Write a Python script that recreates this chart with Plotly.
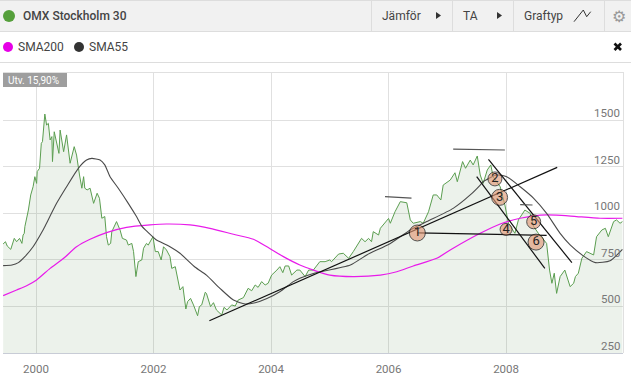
import plotly.graph_objects as go

price_t = [1999.44,1999.48,1999.51,1999.57,1999.63,1999.67,1999.72,1999.76,1999.78,1999.80,1999.81,1999.87,1999.91,1999.95,1999.98,2000.01,2000.02,2000.06,2000.09,2000.11,2000.15,2000.18,2000.21,2000.24,2000.27,2000.28,2000.31,2000.34,2000.39,2000.41,2000.44,2000.47,2000.52,2000.58,2000.65,2000.69,2000.74,2000.78,2000.81,2000.83,2000.87,2000.92,2000.98,2001.04,2001.08,2001.12,2001.17,2001.20,2001.23,2001.27,2001.29,2001.37,2001.43,2001.47,2001.54,2001.57,2001.63,2001.66,2001.70,2001.74,2001.80,2001.83,2001.88,2001.91,2001.99,2002.03,2002.08,2002.13,2002.17,2002.22,2002.28,2002.31,2002.37,2002.42,2002.45,2002.50,2002.55,2002.58,2002.63,2002.68,2002.75,2002.78,2002.82,2002.88,2002.90,2002.97,2003.02,2003.07,2003.16,2003.20,2003.25,2003.33,2003.39,2003.44,2003.53,2003.61,2003.67,2003.73,2003.78,2003.84,2003.90,2003.95,2004.01,2004.10,2004.15,2004.20,2004.24,2004.30,2004.35,2004.44,2004.49,2004.58,2004.64,2004.72,2004.83,2004.92,2005.00,2005.03,2005.15,2005.23,2005.32,2005.40,2005.49,2005.54,2005.60,2005.66,2005.71,2005.74,2005.83,2005.86,2006.00,2006.03,2006.11,2006.20,2006.31,2006.37,2006.42,2006.54,2006.59,2006.68,2006.76,2006.82,2006.89,2006.93,2007.05,2007.13,2007.17,2007.26,2007.31,2007.39,2007.44,2007.51,2007.56,2007.61,2007.68,2007.74,2007.78,2007.90,2007.98,2008.04,2008.15,2008.21,2008.32,2008.41,2008.47,2008.55,2008.69,2008.74,2008.78,2008.82,2008.86,2008.92,2009.00,2009.09,2009.15,2009.18,2009.23,2009.29,2009.37,2009.49,2009.54,2009.63,2009.69,2009.74,2009.83,2009.88,2009.94,2009.98]
price_v = [835,847,824,806,865,847,865,838,883,892,928,1017,1098,1142,1196,1160,1223,1241,1375,1384,1532,1473,1482,1393,1411,1277,1437,1393,1321,1446,1393,1330,1420,1268,1357,1312,1205,1134,1196,1134,1125,1134,1053,1107,1080,973,982,874,829,838,901,955,910,865,856,829,838,794,660,740,749,812,838,829,874,794,794,749,820,803,767,704,713,624,588,606,486,526,543,508,450,499,508,576,570,499,520,481,454,495,481,508,502,534,547,597,584,615,602,633,615,624,668,695,713,681,717,717,668,695,695,660,695,695,740,740,749,740,781,785,758,794,838,865,847,865,847,901,883,919,972,946,1008,1062,1056,964,946,955,946,1008,1098,1098,1071,1151,1178,1217,1169,1277,1241,1285,1259,1307,1205,1160,1232,1259,1196,1142,1044,946,892,964,1017,999,928,892,838,695,624,678,570,660,695,606,624,660,678,758,794,776,874,910,919,874,955,964,946,955]

sma55_t = [1999.44,1999.59,1999.70,1999.81,1999.95,2000.12,2000.15,2000.35,2000.52,2000.72,2000.86,2000.95,2001.09,2001.17,2001.26,2001.40,2001.57,2001.71,2001.80,2001.91,2002.05,2002.11,2002.28,2002.45,2002.71,2002.90,2003.13,2003.36,2003.56,2003.73,2003.93,2004.15,2004.38,2004.49,2004.72,2005.35,2005.63,2006.03,2006.37,2006.65,2007.10,2007.39,2007.56,2007.61,2007.84,2008.01,2008.24,2008.47,2008.69,2008.92,2009.09,2009.32,2009.52,2009.77,2009.98]
sma55_v = [719,722,735,767,820,910,928,1053,1142,1241,1285,1294,1285,1259,1196,1134,1053,982,931,896,856,847,820,785,710,668,597,534,513,520,543,579,633,651,677,722,776,838,910,955,1026,1098,1151,1169,1205,1196,1142,1080,999,892,830,770,735,745,806]

sma200_t = [1999.44,1999.67,1999.84,2000.01,2000.24,2000.47,2000.69,2000.92,2001.20,2001.54,2001.94,2002.22,2002.62,2002.96,2003.36,2003.70,2003.93,2004.21,2004.49,2004.72,2005.00,2005.40,2005.86,2006.14,2006.42,2006.82,2007.10,2007.56,2007.90,2008.24,2008.58,2008.86,2009.20,2009.60,2009.98]
sma200_v = [558,588,611,642,704,758,820,860,896,924,937,942,937,919,887,860,820,767,722,695,668,660,668,686,717,758,812,892,942,973,990,990,982,973,973]

trend_lines = [
    ([2002.95, 2008.87], [423, 1246], "#111"),
    ([2005.94, 2006.39], [1089, 1081], "#555"),
    ([2007.10, 2007.98], [1344, 1339], "#555"),
    ([2006.49, 2008.69], [894, 881], "#111"),
    ([2007.70, 2009.12], [1289, 735], "#111"),
    ([2007.50, 2008.66], [1196, 704], "#111"),
    ([2008.24, 2008.45], [1046, 1044], "#555"),
]
badge_t = [2006.49, 2007.81, 2007.89, 2008.00, 2008.47, 2008.51]
badge_v = [894, 1184, 1085, 913, 954, 845]
badge_labels = ["1", "2", "3", "4", "5", "6"]
badge_sizes = [16, 14, 16, 12, 14, 16]

x_ticks = [2000, 2002, 2004, 2006, 2008]
x_labels = ["2000", "2002", "2004", "2006", "2008"]
y_ticks = [250, 500, 750, 1000, 1250, 1500]
y_labels = ["250", "500", "750", "1000", "1250", "1500"]

W, H = 631, 382
FONT = "Roboto"
def px(x): return x / W
def py(y): return 1 - y / H

fig = go.Figure()
fig.add_trace(go.Scatter(x=price_t, y=price_v, mode="lines", fill="tozeroy",
                         fillcolor="rgba(70,130,60,0.10)", line=dict(color="#5b9e50", width=1)))
fig.add_trace(go.Scatter(x=sma200_t, y=sma200_v, mode="lines", line=dict(color="#e81bea", width=1.2, shape="spline", smoothing=0.6)))
fig.add_trace(go.Scatter(x=sma55_t, y=sma55_v, mode="lines", line=dict(color="#4a4a4a", width=1.1, shape="spline", smoothing=0.6)))
for xs, ys, c in trend_lines:
    fig.add_trace(go.Scatter(x=xs, y=ys, mode="lines", line=dict(color=c, width=1.2)))
fig.add_trace(go.Scatter(x=badge_t, y=badge_v, mode="markers+text", text=badge_labels,
                         textposition="middle center", textfont=dict(family=FONT, size=13, color="#222"),
                         marker=dict(size=badge_sizes, color="rgba(224,150,115,0.9)", line=dict(color="#111", width=1))))

shapes = []
def rect(x0, y0, x1, y1, fill):
    shapes.append(dict(type="rect", xref="paper", yref="paper", x0=px(x0), x1=px(x1), y0=py(y1), y1=py(y0),
                       fillcolor=fill, line=dict(width=0), layer="above"))
def seg(x0, y0, x1, y1, color, w=1):
    shapes.append(dict(type="line", xref="paper", yref="paper", x0=px(x0), x1=px(x1), y0=py(y0), y1=py(y1),
                       line=dict(color=color, width=w), layer="above"))
def dot(cx, cy, r, color):
    shapes.append(dict(type="circle", xref="paper", yref="paper", x0=px(cx-r), x1=px(cx+r), y0=py(cy+r), y1=py(cy-r),
                       fillcolor=color, line=dict(width=0), layer="above"))
def tri(x, y, color):
    shapes.append(dict(type="path", xref="paper", yref="paper",
                       path=f"M {px(x)} {py(y-3.5)} L {px(x+5)} {py(y)} L {px(x)} {py(y+3.5)} Z",
                       fillcolor=color, line=dict(width=0), layer="above"))

rect(0, 0, W, 31.5, "#f1f1f1")
seg(0, 0.5, W, 0.5, "#dddddd")
seg(0, 31.5, W, 31.5, "#dddddd")
seg(0, 62.5, W, 62.5, "#dddddd")
for x in (371.5, 452.5, 513.5, 604.5):
    seg(x, 0, x, 31, "#dddddd")
dot(9, 16, 6, "#559f3b")
dot(8, 47, 5, "#e600e6")
dot(79, 47, 5, "#333333")
tri(436, 15.5, "#333333")
tri(497, 15.5, "#333333")
shapes.append(dict(type="path", xref="paper", yref="paper",
                   path=f"M {px(574)} {py(21.7)} L {px(583.3)} {py(10)} L {px(586.7)} {py(16.7)} L {px(590.7)} {py(11.7)}",
                   line=dict(color="#333333", width=1), layer="above"))
seg(614.5, 43.5, 621, 50, "#111111", 2.6)
seg(621, 43.5, 614.5, 50, "#111111", 2.6)
rect(3, 72, 67, 87, "#9e9e9e")
seg(3, 72.5, 623, 72.5, "#e0e0e0")
seg(623.5, 72, 623.5, 353, "#e0e0e0")
seg(3, 353.5, 623, 353.5, "#c8ccd6")

def note(x, y, text, size, color, anchor="left", weight=None):
    fig.add_annotation(xref="paper", yref="paper", x=px(x), y=py(y), text=text, showarrow=False,
                       xanchor=anchor, yanchor="middle", xshift=-2 if anchor == "left" else 0,
                       font=dict(family=FONT, size=size, color=color, weight=weight))

note(23, 16, "OMX Stockholm 30", 12, "#444444", weight=500)
note(382, 16, "Jämför", 12, "#444444")
note(463, 16, "TA", 12, "#444444")
note(524, 16, "Graftyp", 12, "#444444")
note(18, 47, "SMA200", 12, "#444444")
note(89, 47, "SMA55", 12, "#444444")
note(8, 80, "Utv. 15,90%", 10, "#ffffff")
note(619, 16, "⚙", 16, "#999999", anchor="center")

for v, label in zip(y_ticks, y_labels):
    fig.add_annotation(xref="paper", yref="y", x=px(622), y=v, text=label, showarrow=False,
                       xanchor="right", yanchor="bottom", yshift=-2,
                       font=dict(family=FONT, size=11.5, color="#777777"))

fig.update_layout(
    width=W, height=H, margin=dict(l=0, r=0, t=0, b=0), showlegend=False,
    paper_bgcolor="#ffffff", plot_bgcolor="#ffffff", hovermode=False,
    font=dict(family=FONT), shapes=shapes,
    xaxis=dict(domain=[px(3), px(623)], range=[1999.438, 2009.99], tickmode="array", tickvals=x_ticks,
               ticktext=x_labels, showgrid=True, gridcolor="#e0e0e0", gridwidth=1.2, zeroline=False, showline=False,
               ticks="", tickfont=dict(size=11.5, color="#777777", family=FONT), ticklabelstandoff=7),
    yaxis=dict(domain=[py(353), py(72)], range=[250, 1757.6], side="right", tickmode="array", tickvals=y_ticks,
               showticklabels=False, showgrid=True, gridcolor="#e0e0e0", gridwidth=1.2, zeroline=False, showline=False,
               ticks=""),
)
fig.write_html("out.html", config={"displayModeBar": False},
               post_script="document.body.style.margin='0';document.body.style.overflow='hidden';")
